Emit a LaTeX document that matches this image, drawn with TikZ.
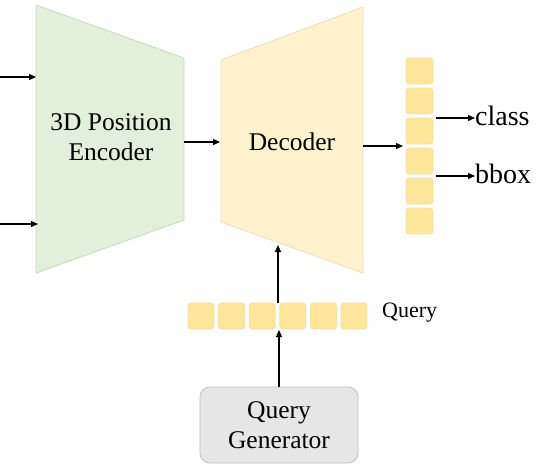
\documentclass[tikz,border=0pt]{standalone}
\usepackage{fontspec}
\setmainfont{Liberation Serif}
\newfontfamily\tnr{Liberation Serif}
\usetikzlibrary{arrows.meta}
\definecolor{encfill}{HTML}{E2EFDA}
\definecolor{encdraw}{HTML}{C9D9BF}
\definecolor{decfill}{HTML}{FFF2CC}
\definecolor{decdraw}{HTML}{E8DDBE}
\definecolor{sqfill}{HTML}{FFE699}
\definecolor{sqdraw}{HTML}{F2DFA6}
\definecolor{genfill}{HTML}{E6E6E6}
\definecolor{gendraw}{HTML}{BFBFBF}
\tikzset{
  arr/.style={line width=1.3pt,-{Triangle[length=7pt,width=6pt]}},
  sq/.style={draw=sqdraw,line width=0.8pt,fill=sqfill,rounded corners=3pt,minimum width=26pt,minimum height=26pt,inner sep=0pt},
  lbl/.style={font=\tnr\fontsize{25.5}{30}\selectfont,align=center,inner sep=0pt},
  outlbl/.style={font=\tnr\fontsize{28}{32}\selectfont,inner sep=0pt,anchor=west},
}
\begin{document}
\begin{tikzpicture}[x=1pt,y=-1pt]
\useasboundingbox (0,0) rectangle (536,467);
% encoder
\draw[fill=encfill,draw=encdraw,line width=0.8pt] (36,5) -- (184,58) -- (184,220) -- (36,273) -- cycle;
\node[lbl] (enc) at (111,137) {3D Position\\Encoder};
% decoder
\draw[fill=decfill,draw=decdraw,line width=0.8pt] (221,60) -- (363,7) -- (363,273) -- (221,222) -- cycle;
\node[lbl] (dec) at (292,142) {Decoder};
% named points
\coordinate (in1) at (0,77);
\coordinate (encin1) at (36,77);
\coordinate (in2) at (0,224);
\coordinate (encin2) at (38,224);
\coordinate (encout) at (184,142);
\coordinate (decin) at (220,142);
\coordinate (decout) at (363,146);
\coordinate (decbot) at (278,245);
% output column
\foreach \i in {0,...,5} {
  \node[sq,minimum width=27pt] (o\i) at (419.5,{71+30*\i}) {};
}
\coordinate (colin) at (403,146);
\coordinate (cls0) at (436,118);
\coordinate (bb0) at (436,176);
\node[outlbl] (cls) at (475,116) {class};
\node[outlbl] (bb) at (475,174) {bbox};
% query row
\foreach \i in {0,...,5} {
  \node[sq] (q\i) at ({201+30.6*\i},316) {};
}
\coordinate (qtop) at (278,303);
\coordinate (qbot) at (279,330);
\node[font=\tnr\fontsize{22}{26}\selectfont,inner sep=0pt,anchor=west] (qlbl) at (382,313) {Query};
% query generator
\node[draw=gendraw,fill=genfill,line width=0.8pt,rounded corners=10pt,minimum width=158pt,minimum height=76pt,lbl] (gen) at (279,425) {Query\\Generator};
% arrows
\draw[arr] (in1) -- (encin1);
\draw[arr] (in2) -- (encin2);
\draw[arr] (encout) -- (decin);
\draw[arr] (decout) -- (colin);
\draw[arr] (cls0) -- (cls0 -| cls.west);
\draw[arr] (bb0) -- (bb0 -| bb.west);
\draw[arr] (qtop) -- (decbot);
\draw[arr] (gen.north -| qbot) -- (qbot);
\end{tikzpicture}
\end{document}
